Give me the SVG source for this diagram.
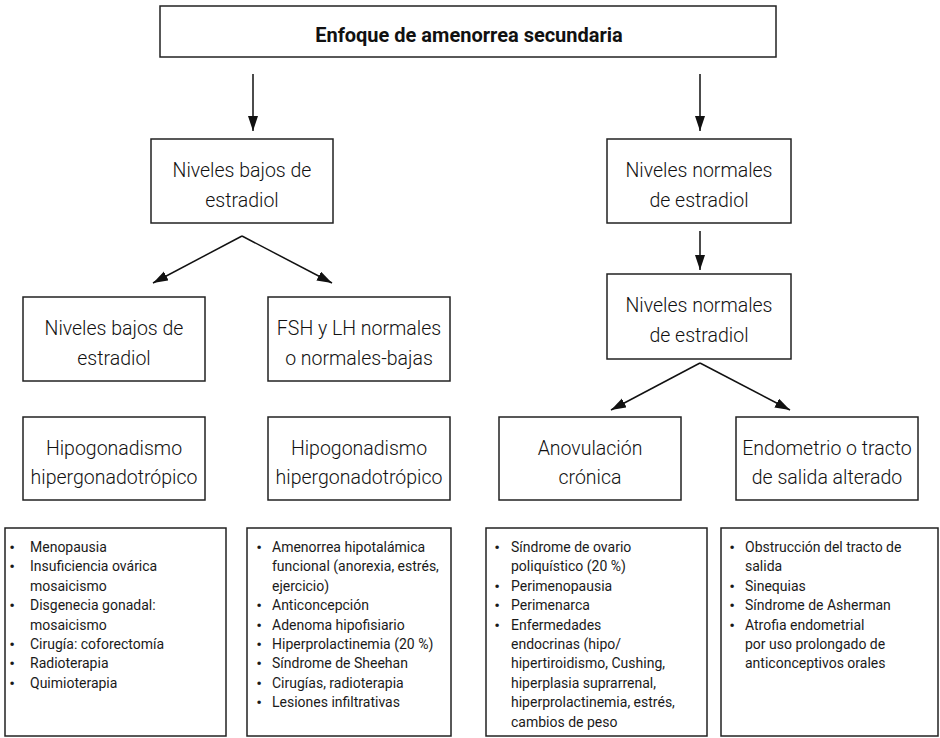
<svg xmlns="http://www.w3.org/2000/svg" width="940" height="738" viewBox="0 0 940 738">
<style>
.box{fill:#fff;stroke:#222;stroke-width:1.5}
.t{font-family:Roboto,"Liberation Sans",sans-serif;font-size:19.5px;font-weight:300;fill:#111;text-anchor:middle}
.title{font-family:Roboto,"Liberation Sans",sans-serif;font-size:20px;font-weight:bold;fill:#111;text-anchor:middle}
.b{font-family:Roboto,"Liberation Sans",sans-serif;font-size:14px;fill:#1a1a1a}
.dot{font-family:Roboto,"Liberation Sans",sans-serif;font-size:17px;fill:#1a1a1a;text-anchor:middle}
.c{stroke:#111;stroke-width:1.5;fill:none;marker-end:url(#ah)}
</style>
<defs>
<marker id="ah" markerUnits="userSpaceOnUse" markerWidth="16" markerHeight="12" refX="15" refY="5" orient="auto">
<path d="M0,0 L15,5 L0,10 z" fill="#111"/>
</marker>
</defs>
<g id="connectors">
<line class="c" x1="253" y1="74" x2="253" y2="131"/>
<line class="c" x1="700" y1="74" x2="700" y2="131"/>
<line class="c" x1="700" y1="231" x2="700" y2="270"/>
<line class="c" x1="242" y1="236" x2="153" y2="283"/>
<line class="c" x1="242" y1="236" x2="332" y2="283"/>
<line class="c" x1="700" y1="363" x2="611" y2="410"/>
<line class="c" x1="700" y1="363" x2="790" y2="410"/>
</g>
<g id="title">
<rect class="box" x="160" y="6" width="616" height="51"/>
<text class="title" x="469" y="42">Enfoque de amenorrea secundaria</text>
</g>
<g id="bajos">
<rect class="box" x="151" y="139" width="182" height="84"/>
<text class="t"><tspan x="242" y="177">Niveles bajos de</tspan><tspan x="242" y="207">estradiol</tspan></text>
</g>
<g id="normales1">
<rect class="box" x="607" y="139" width="184" height="84"/>
<text class="t"><tspan x="699" y="177">Niveles normales</tspan><tspan x="699" y="207">de estradiol</tspan></text>
</g>
<g id="normales2">
<rect class="box" x="607" y="274" width="184" height="85"/>
<text class="t"><tspan x="699" y="312">Niveles normales</tspan><tspan x="699" y="342">de estradiol</tspan></text>
</g>
<g id="bajos2">
<rect class="box" x="23" y="297" width="182" height="84"/>
<text class="t"><tspan x="114" y="335">Niveles bajos de</tspan><tspan x="114" y="365">estradiol</tspan></text>
</g>
<g id="fsh">
<rect class="box" x="268" y="297" width="182" height="84"/>
<text class="t"><tspan x="359" y="335">FSH y LH normales</tspan><tspan x="359" y="365">o normales-bajas</tspan></text>
</g>
<g id="hipo1">
<rect class="box" x="23" y="417" width="182" height="83"/>
<text class="t"><tspan x="114" y="455">Hipogonadismo</tspan><tspan x="114" y="484">hipergonadotrópico</tspan></text>
</g>
<g id="hipo2">
<rect class="box" x="268" y="417" width="182" height="83"/>
<text class="t"><tspan x="359" y="455">Hipogonadismo</tspan><tspan x="359" y="484">hipergonadotrópico</tspan></text>
</g>
<g id="anovulacion">
<rect class="box" x="499" y="417" width="182" height="83"/>
<text class="t"><tspan x="590" y="455">Anovulación</tspan><tspan x="590" y="484">crónica</tspan></text>
</g>
<g id="endometrio">
<rect class="box" x="736" y="417" width="182" height="83"/>
<text class="t"><tspan x="827" y="455">Endometrio o tracto</tspan><tspan x="827" y="484">de salida alterado</tspan></text>
</g>
<g id="lista1">
<rect class="box" x="5" y="528" width="221" height="208"/>
<text class="dot"><tspan x="12" y="553">•</tspan><tspan x="12" y="572.4">•</tspan><tspan x="12" y="611.2">•</tspan><tspan x="12" y="650">•</tspan><tspan x="12" y="669.4">•</tspan><tspan x="12" y="688.8">•</tspan></text>
<text class="b"><tspan x="30" y="552">Menopausia</tspan><tspan x="30" y="571.4">Insuficiencia ovárica</tspan><tspan x="30" y="590.8">mosaicismo</tspan><tspan x="30" y="610.2">Disgenecia gonadal:</tspan><tspan x="30" y="629.6">mosaicismo</tspan><tspan x="30" y="649">Cirugía: coforectomía</tspan><tspan x="30" y="668.4">Radioterapia</tspan><tspan x="30" y="687.8">Quimioterapia</tspan></text>
</g>
<g id="lista2">
<rect class="box" x="247" y="528" width="204" height="208"/>
<text class="dot"><tspan x="259" y="553">•</tspan><tspan x="259" y="611.2">•</tspan><tspan x="259" y="630.6">•</tspan><tspan x="259" y="650">•</tspan><tspan x="259" y="669.4">•</tspan><tspan x="259" y="688.8">•</tspan><tspan x="259" y="708.2">•</tspan></text>
<text class="b"><tspan x="272" y="552">Amenorrea hipotalámica</tspan><tspan x="272" y="571.4">funcional (anorexia, estrés,</tspan><tspan x="272" y="590.8">ejercicio)</tspan><tspan x="272" y="610.2">Anticoncepción</tspan><tspan x="272" y="629.6">Adenoma hipofisiario</tspan><tspan x="272" y="649">Hiperprolactinemia (20 %)</tspan><tspan x="272" y="668.4">Síndrome de Sheehan</tspan><tspan x="272" y="687.8">Cirugías, radioterapia</tspan><tspan x="272" y="707.2">Lesiones infiltrativas</tspan></text>
</g>
<g id="lista3">
<rect class="box" x="486" y="528" width="221" height="208"/>
<text class="dot"><tspan x="497" y="553">•</tspan><tspan x="497" y="591.8">•</tspan><tspan x="497" y="611.2">•</tspan><tspan x="497" y="630.6">•</tspan></text>
<text class="b"><tspan x="511" y="552">Síndrome de ovario</tspan><tspan x="511" y="571.4">poliquístico (20 %)</tspan><tspan x="511" y="590.8">Perimenopausia</tspan><tspan x="511" y="610.2">Perimenarca</tspan><tspan x="511" y="629.6">Enfermedades</tspan><tspan x="511" y="649">endocrinas (hipo/</tspan><tspan x="511" y="668.4">hipertiroidismo, Cushing,</tspan><tspan x="511" y="687.8">hiperplasia suprarrenal,</tspan><tspan x="511" y="707.2">hiperprolactinemia, estrés,</tspan><tspan x="511" y="726.6">cambios de peso</tspan></text>
</g>
<g id="lista4">
<rect class="box" x="721" y="528" width="217" height="208"/>
<text class="dot"><tspan x="732" y="553">•</tspan><tspan x="732" y="591.8">•</tspan><tspan x="732" y="611.2">•</tspan><tspan x="732" y="630.6">•</tspan></text>
<text class="b"><tspan x="745" y="552">Obstrucción del tracto de</tspan><tspan x="745" y="571.4">salida</tspan><tspan x="745" y="590.8">Sinequias</tspan><tspan x="745" y="610.2">Síndrome de Asherman</tspan><tspan x="745" y="629.6">Atrofia endometrial</tspan><tspan x="745" y="649">por uso prolongado de</tspan><tspan x="745" y="668.4">anticonceptivos orales</tspan></text>
</g>
</svg>
